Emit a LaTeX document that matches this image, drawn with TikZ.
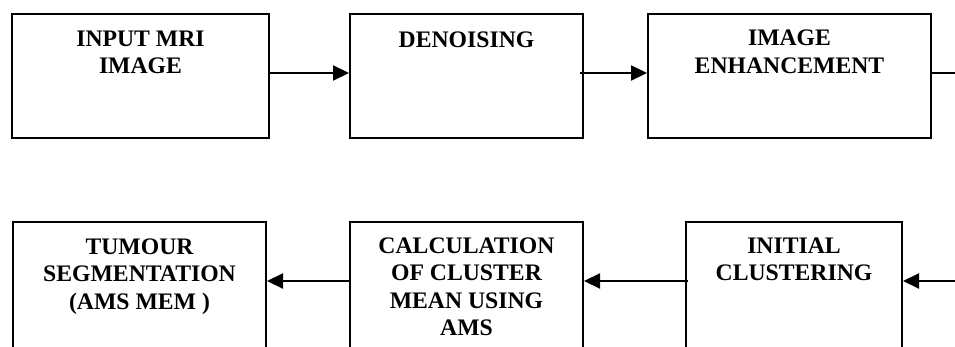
\documentclass[tikz,border=0pt]{standalone}
\usepackage{fontspec}
\setmainfont{Liberation Serif}
\usetikzlibrary{arrows.meta}
\begin{document}
\begin{tikzpicture}[x=1pt,y=-1pt,
  box/.style={draw,line width=2pt,inner sep=0pt,anchor=north west},
  lbl/.style={anchor=north,align=center,inner sep=0pt,font=\fontsize{23.7}{27.5}\selectfont\bfseries},
  conn/.style={line width=2.2pt,-{Triangle[length=16pt,width=15pt]}},
  stub/.style={line width=2.2pt}]
\useasboundingbox (0,0) rectangle (955,347);
\clip (0,0) rectangle (955,347);
% top row
\node[box,minimum width=257pt,minimum height=124pt] (b1) at (11,13) {};
\node[box,minimum width=233pt,minimum height=124pt] (b2) at (349,13) {};
\node[box,minimum width=283pt,minimum height=124pt] (b3) at (647,13) {};
% bottom row
\node[box,minimum width=253pt,minimum height=160pt] (b4) at (12,220.7) {};
\node[box,minimum width=233pt,minimum height=160pt] (b5) at (349,220.7) {};
\node[box,minimum width=216pt,minimum height=160pt] (b6) at (685,220.7) {};
% labels
\node[lbl] (t1) at ([yshift=-17.5pt]b1.north) {INPUT MRI\\IMAGE};
\node[lbl] (t2) at ([yshift=-18.5pt]b2.north) {DENOISING};
\node[lbl] (t3) at ([yshift=-17pt]b3.north) {IMAGE\\ENHANCEMENT};
\node[lbl] (t4) at ([yshift=-17.5pt]b4.north) {TUMOUR\\SEGMENTATION\\(AMS MEM )};
\node[lbl] (t5) at ([yshift=-16.6pt]b5.north) {CALCULATION\\OF CLUSTER\\MEAN USING\\AMS};
\node[lbl] (t6) at ([yshift=-16.6pt]b6.north) {INITIAL\\CLUSTERING};
% connectors
\coordinate (r1) at (0,73);
\coordinate (r2) at (0,281);
\coordinate (e1) at (957,73);
\coordinate (e2) at (957,281);
\draw[conn] (b1.east |- r1) -- (b2.west |- r1);
\draw[conn] ([xshift=-4pt]b2.east |- r1) -- (b3.west |- r1);
\draw[stub] (b3.east |- r1) -- (e1);
\draw[conn] (e2) -- (b6.east |- r2);
\draw[conn] ([xshift=3pt]b6.west |- r2) -- (b5.east |- r2);
\draw[conn] (b5.west |- r2) -- (b4.east |- r2);
\end{tikzpicture}
\end{document}
